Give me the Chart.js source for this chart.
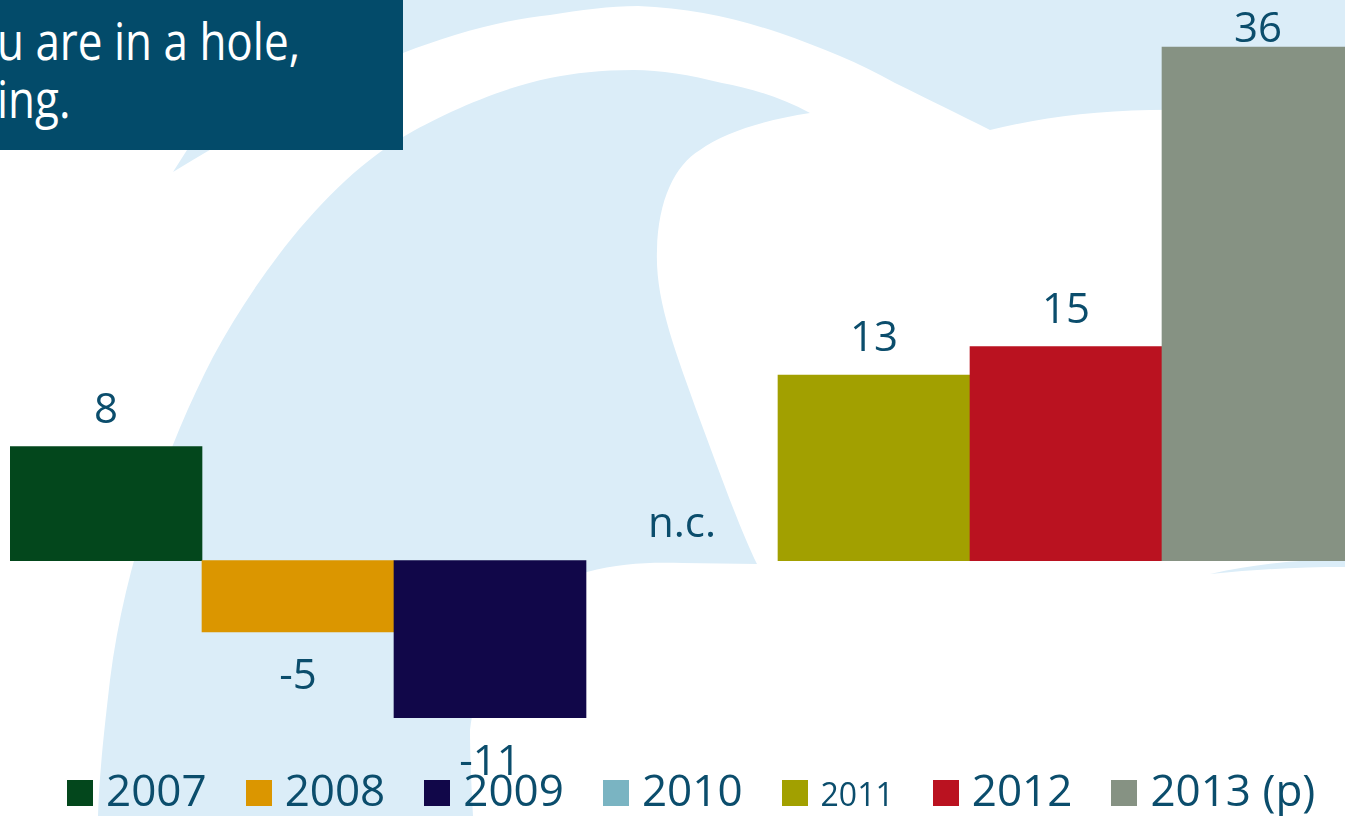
<!DOCTYPE html>
<html>
<head>
<meta charset="utf-8">
<script src="https://cdn.jsdelivr.net/npm/chart.js@4"></script>
<style>
  html, body { margin:0; padding:0; width:1345px; height:816px; overflow:hidden; background:#fff; font-family:"Open Sans", sans-serif; }
  #bg { position:absolute; left:0; top:0; }
  #chartBox { position:absolute; left:10px; top:0; width:1344px; height:816px; }
  #titleBox { position:absolute; left:0; top:0; width:403px; height:150px; background:#034b6a; overflow:hidden; }
  #titleText { position:absolute; left:-3px; top:0; color:#fff; font-size:44px; line-height:51px; padding-top:10px; white-space:nowrap; transform:scaleY(1.15); transform-origin:0 0; }
  #legend { position:absolute; left:67px; top:767px; white-space:nowrap; font-size:44px; line-height:44px; color:#0b4d6c; }
  #legend .sw { display:inline-block; width:26px; height:26px; margin-right:13px; vertical-align:baseline; }
  #legend .item { margin-right:39px; }
</style>
</head>
<body>
<!-- background swoosh -->
<svg id="bg" width="1345" height="816">
  <g fill="#dbedf8">
    <path d="M173,172 C250,125 330,80 403,53 C450,35 500,20 550,15 C580,10 610,6 638,6 C690,8 735,18 780,33 C820,47 860,63 895,83 C930,100 960,115 990,130 C1040,118 1090,111 1150,110 L1345,108 L1345,0 L300,0 L187,150 Z"/>
    <path d="M810,113 C780,97 750,88 722,83 C690,75 660,70 634,70 C600,70 575,73 550,78 C500,88 440,115 403,137 C330,180 260,270 213,357 C170,440 125,560 110,680 C103,740 99,780 98,816 L473,816 C471,780 470,750 470,730 C480,650 530,590 587,572 C620,563 650,562 683,563 L757,564 C740,530 715,460 700,420 C675,350 655,300 657,250 C658,200 675,165 700,150 C725,132 765,120 810,113 Z"/>
    <path d="M1210,574 C1260,563 1300,560 1345,559 L1345,567 C1300,567 1260,569 1210,574 Z"/>
  </g>
</svg>

<div id="chartBox"><canvas id="growthChart"></canvas></div>

<div id="titleBox"><div id="titleText">u are in a hole,<br>ing.</div></div>

<div id="legend"></div>

<script>
// === DATA ===
const years = ['2007', '2008', '2009', '2010', '2011', '2012', '2013 (p)'];
const growth = [8, -5, -11, null, 13, 15, 36];   // null = n.c.
const barColors = ['#03471c', '#db9600', '#110749', '#7ab4c2', '#a2a000', '#ba1220', '#869283'];
const yMin = -17.9;
const yMax = 39.3;

const labelColor = '#0b4d6c';

// value labels + "n.c." for missing year
const valueLabels = {
    id: 'valueLabels',
    afterDatasetsDraw(chart) {
        const ctx = chart.ctx;
        const xs = chart.scales.x;
        const ys = chart.scales.y;
        const y0 = ys.getPixelForValue(0);
        ctx.save();
        ctx.fillStyle = labelColor;
        ctx.textAlign = 'center';
        ctx.textBaseline = 'alphabetic';
        ctx.font = '42px "Open Sans"';
        growth.forEach((v, i) => {
            const x = xs.getPixelForValue(i);
            if (v === null) { ctx.fillText('n.c.', x, y0 - 24); return; }
            const yb = ys.getPixelForValue(v);
            if (v >= 0) ctx.fillText(String(v), x, Math.max(yb - 24, 42));
            else ctx.fillText(String(v), x, yb + 57);
        });
        ctx.restore();
    }
};

const ctx = document.getElementById('growthChart').getContext('2d');
new Chart(ctx, {
    type: 'bar',
    data: {
        labels: years,
        datasets: [{ data: growth, backgroundColor: barColors, borderWidth: 0, barPercentage: 1, categoryPercentage: 1 }]
    },
    options: {
        responsive: true,
        maintainAspectRatio: false,
        animation: false,
        layout: { padding: 0 },
        scales: {
            x: { display: false },
            y: { display: false, min: yMin, max: yMax }
        },
        plugins: { legend: { display: false }, tooltip: { enabled: false } }
    },
    plugins: [valueLabels]
});

// legend (2011 entry is smaller in the original)
const legend = document.getElementById('legend');
years.forEach((y, i) => {
    const item = document.createElement('span');
    item.className = 'item';
    if (y === '2011') item.style.fontSize = '32px';
    item.innerHTML = `<span class="sw" style="background:${barColors[i]}"></span>${y}`;
    legend.appendChild(item);
});
</script>
</body>
</html>
